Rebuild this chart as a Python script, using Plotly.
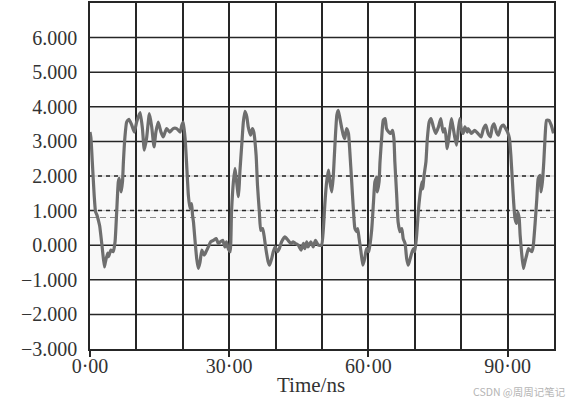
import plotly.graph_objects as go

# waveform (time in ns, voltage in V)
time_ns = [
    0.0, 0.2, 0.5, 0.9, 1.2, 1.5, 1.9, 2.1, 2.65, 3.1, 3.3, 3.8, 4.0, 4.5, 5.0, 5.4,
    5.75, 6.1, 6.3, 6.7, 7.0, 7.2, 7.5, 7.9, 8.4, 9.0, 9.55, 10.05, 10.8, 11.3, 11.7,
    12.2, 12.8, 13.3, 13.8, 14.2, 14.7, 15.3, 15.8, 16.5, 17.2, 17.9, 18.7, 19.4, 19.8,
    20.1, 20.5, 20.8, 21.2, 21.55, 21.9, 22.1, 22.3, 22.6, 23.0, 23.35, 23.7, 24.1,
    24.6, 25.0, 25.5, 26.0, 26.6, 27.2, 27.65, 28.1, 28.6, 29.1, 29.4, 29.8, 30.2,
    30.5, 30.9, 31.25, 31.6, 32.0, 32.2, 32.3, 32.7, 33.05, 33.4, 33.8, 34.1, 34.6,
    35.0, 35.3, 35.8, 36.1, 36.5, 36.8, 37.2, 37.5, 37.9, 38.4, 38.7, 39.15, 39.5,
    39.9, 40.4, 40.8, 41.3, 42.0, 42.7, 43.3, 43.8, 44.3, 44.9, 45.5, 46.0, 46.3,
    46.7, 47.0, 47.6, 48.1, 48.6, 49.2, 49.9, 50.3, 50.6, 51.0, 51.4, 51.7, 52.1,
    52.4, 52.6, 52.9, 53.2, 53.5, 53.8, 54.2, 54.6, 54.9, 55.3, 55.7, 56.0, 56.4,
    56.75, 57.1, 57.5, 57.7, 58.0, 58.4, 58.8, 59.2, 59.6, 60.1, 60.7, 61.1, 61.4,
    61.8, 61.9, 62.3, 62.5, 62.9, 63.2, 63.6, 63.9, 64.4, 64.8, 65.2, 65.5, 65.7,
    66.1, 66.4, 66.8, 67.2, 67.5, 67.9, 68.25, 68.6, 69.0, 69.3, 69.7, 70.0, 70.4,
    70.75, 71.1, 71.5, 71.7, 72.0, 72.4, 72.7, 73.1, 73.5, 74.0, 74.5, 75.1, 75.6,
    76.1, 76.5, 77.0, 77.5, 77.9, 78.3, 78.6, 79.0, 79.4, 79.7, 80.0, 80.4, 80.8,
    81.3, 81.5, 82.2, 82.9, 83.6, 84.3, 84.8, 85.3, 85.8, 86.3, 86.7, 87.1, 87.6,
    88.0, 88.6, 89.1, 89.6, 90.0, 90.4, 90.7, 91.0, 91.3, 91.6, 91.95, 92.2, 92.5,
    92.7, 93.0, 93.4, 93.7, 94.1, 94.5, 94.8, 95.2, 95.5, 95.9, 96.3, 96.6, 97.0,
    97.2, 97.5, 97.8, 98.1, 98.4, 98.9, 99.4, 99.9,
]
voltage = [
    3.27, 3.1, 2.4, 1.44, 0.96, 0.87, 0.67, 0.55, -0.09, -0.63, -0.5, -0.23, -0.33, -0.14, -0.19, 0.1,
    0.96, 1.83, 1.93, 1.54, 1.83, 2.41, 3.08, 3.56, 3.64, 3.47, 3.27, 3.56, 3.83, 3.37, 2.75,
    3.1, 3.8, 3.42, 2.84, 3.27, 3.56, 3.27, 3.13, 3.37, 3.27, 3.37, 3.37, 3.27, 3.47,
    3.56, 3.08, 2.41, 1.44, 1.06, 1.2, 0.87, 0.67, 0.19, -0.39, -0.67, -0.5, -0.14,
    -0.29, -0.19, -0.05, 0.1, 0.14, 0.19, 0.05, 0.1, 0.14, -0.05, 0.1, -0.1, -0.19,
    0.96, 1.83, 2.22, 1.83, 1.4, 1.83, 2.12, 2.89, 3.56, 3.87, 3.71, 3.42, 3.18,
    3.37, 3.27, 2.6, 1.73, 0.96, 0.43, 0.48, 0.29, -0.1, -0.48, -0.58, -0.39, -0.19,
    -0.05, -0.19, -0.1, 0.1, 0.24, 0.14, 0.05, 0.1, 0.05, 0.0, -0.14, 0.05, -0.1,
    0.1, -0.05, 0.1, -0.05, 0.14, 0.0, 0.0, 0.48, 1.16, 1.83, 2.17, 1.83, 1.54,
    1.93, 2.41, 3.18, 3.76, 3.9, 3.71, 3.42, 3.18, 3.08, 3.37, 3.23, 2.7, 1.83,
    1.06, 0.48, 0.39, 0.48, 0.19, -0.19, -0.58, -0.39, -0.1, -0.19, 0.43, 1.25, 1.83,
    1.97, 1.54, 1.83, 2.41, 3.18, 3.61, 3.66, 3.37, 3.27, 3.23, 3.32, 3.08, 2.41,
    1.44, 0.67, 0.39, 0.48, 0.19, 0.05, -0.39, -0.58, -0.39, -0.24, -0.1, -0.19, 0.29,
    0.96, 1.44, 1.83, 1.63, 2.02, 2.41, 3.08, 3.56, 3.66, 3.42, 3.23, 3.42, 3.66,
    3.27, 3.37, 2.79, 3.27, 3.66, 3.37, 3.13, 2.89, 3.37, 3.66, 3.37, 3.23, 3.42,
    3.27, 3.37, 3.23, 3.32, 3.23, 3.13, 3.37, 3.47, 3.23, 3.13, 3.42, 3.51, 3.27,
    3.18, 3.42, 3.47, 3.37, 3.27, 3.08, 2.6, 1.93, 1.25, 0.77, 0.63, 0.96, 0.77,
    0.29, -0.19, -0.67, -0.5, -0.29, -0.1, -0.14, -0.19, -0.05, 0.58, 1.35, 1.93, 2.02,
    1.54, 1.83, 2.41, 3.18, 3.61, 3.61, 3.47, 3.23,
]

x_tickvals = [0, 30, 60, 90]
x_ticktext = ["0·00", "30·00", "60·00", "90·00"]
y_tickvals = [-3, -2, -1, 0, 1, 2, 3, 4, 5, 6]
y_ticktext = ["\u22123.000", "\u22122.000", "\u22121.000", "0.000", "1.000",
              "2.000", "3.000", "4.000", "5.000", "6.000"]

solid_levels = [-2, -1, 0, 3, 4, 5, 6]
dashed_levels = [1, 2]
gray_dashed_level = 0.8

GRID = "#262626"
FONT = "Liberation Serif"

fig = go.Figure()

fig.add_trace(
    go.Scatter(
        x=time_ns,
        y=voltage,
        mode="lines",
        line=dict(color="#6e6e6e", width=3.2, shape="spline", smoothing=0.5),
        showlegend=False,
        hoverinfo="skip",
    )
)

# faint shaded band behind the waveform
fig.add_shape(type="rect", xref="paper", x0=0, x1=1, y0=-1, y1=4,
              fillcolor="#f8f8f8", line=dict(width=0), layer="below")

for lv in solid_levels:
    fig.add_shape(type="line", xref="paper", x0=0, x1=1, y0=lv, y1=lv,
                  line=dict(color=GRID, width=1.5), layer="below")
for lv in dashed_levels:
    fig.add_shape(type="line", xref="paper", x0=0, x1=1, y0=lv, y1=lv,
                  line=dict(color="#c4c4c4", width=1), layer="below")
    fig.add_shape(type="line", xref="paper", x0=0, x1=1, y0=lv, y1=lv,
                  line=dict(color=GRID, width=1.5, dash="4px,4px"), layer="below")
fig.add_shape(type="line", xref="paper", x0=0, x1=1,
              y0=gray_dashed_level, y1=gray_dashed_level,
              line=dict(color="#8a8a8a", width=1.2, dash="6px,4px"), layer="below")

fig.update_layout(
    width=571,
    height=402,
    margin=dict(l=90, r=17, t=3, b=53, autoexpand=False),
    plot_bgcolor="white",
    paper_bgcolor="white",
    font=dict(family=FONT, size=20, color="#333333"),
    xaxis=dict(
        range=[0, 100],
        tickvals=x_tickvals,
        ticktext=x_ticktext,
        ticks="outside",
        ticklen=6,
        tickwidth=1.5,
        tickcolor=GRID,
        ticklabelstandoff=-8,
        showgrid=True,
        gridcolor=GRID,
        gridwidth=1.5,
        minor=dict(dtick=10, tick0=0, showgrid=True, gridcolor=GRID, gridwidth=1.5),
        showline=True,
        linecolor=GRID,
        linewidth=1.5,
        mirror=True,
        zeroline=False,
        automargin=False,
        tickfont=dict(family=FONT, size=20, color="#333333"),
    ),
    yaxis=dict(
        range=[-3, 7],
        tickvals=y_tickvals,
        ticktext=y_ticktext,
        ticks="",
        ticklabelstandoff=7,
        showgrid=False,
        showline=True,
        linecolor=GRID,
        linewidth=1.5,
        mirror=True,
        zeroline=False,
        automargin=False,
        tickfont=dict(family=FONT, size=20, color="#333333"),
    ),
    annotations=[
        dict(text="Time/ns", xref="paper", yref="paper", x=0.476, y=-0.105,
             xanchor="center", yanchor="middle", showarrow=False,
             font=dict(family=FONT, size=21, color="#333333")),
        dict(text="CSDN @周周记笔记", xref="paper", yref="paper", x=1.03, y=-0.122,
             xanchor="right", yanchor="middle", showarrow=False,
             font=dict(family="Noto Sans CJK SC", size=10.5, color="#b5b5b5")),
    ],
)

fig.write_html("out.html", config={"displayModeBar": False},
               post_script="document.body.style.margin='0';")
